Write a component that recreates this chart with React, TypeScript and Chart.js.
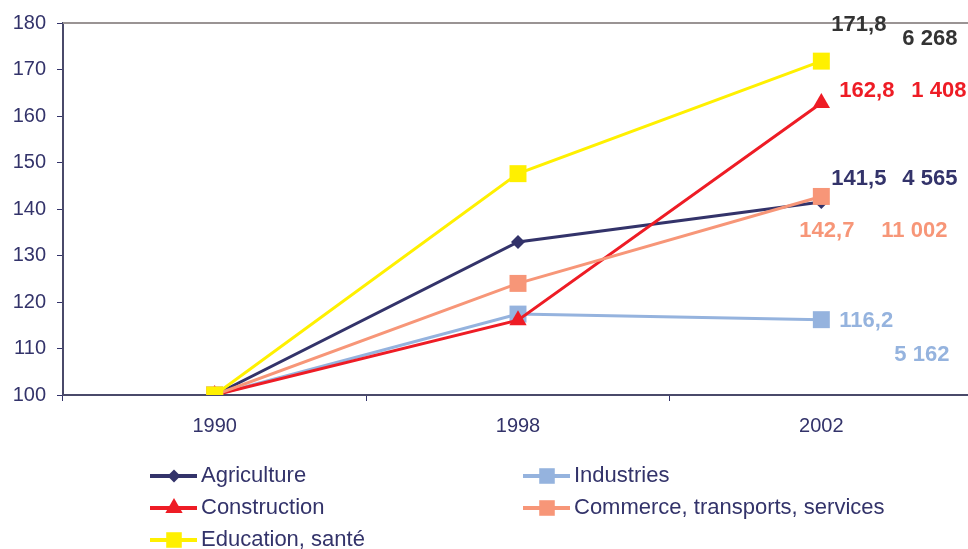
import React, { useEffect, useRef } from "react";
import { Chart, registerables } from "chart.js";
import { drawPoint } from "chart.js/helpers";

Chart.register(...registerables);

const years = ["1990", "1998", "2002"];
const seriesNames = ["Agriculture", "Industries", "Construction", "Commerce, transports, services", "Education, santé"];
const agriculture = [100, 132.9, 141.5];
const industries = [100, 117.4, 116.2];
const construction = [100, 116.1, 162.8];
const commerce = [100, 124.0, 142.7];
const education = [100, 147.6, 171.8];
const indexLabels = ["141,5", "116,2", "162,8", "142,7", "171,8"];
const employmentLabels = ["4 565", "5 162", "1 408", "11 002", "6 268"];
const yTicks = [100, 110, 120, 130, 140, 150, 160, 170, 180];

const NAVY = "#33336a";
const colors = ["#33336a", "#95b3de", "#ee1c25", "#f79678", "#fff000"];
const labelColors = ["#33336a", "#95b3de", "#ee1c25", "#f79678", "#333333"];
const shapes = ["rectRot", "rect", "triangle", "rect", "rect"];
const radii = [7, 12, 10, 12, 12];
const legendRadii = [6.5, 11, 10, 11, 11];
const orders = [4, 3, 2, 1, 0];
// label offsets relative to the last point: [dx1, dy1, dx2, dy2]
const labelOffsets = [
  [10, -23, 81, -23],
  [18, 1, 73, 35],
  [18, -12, 90, -12],
  [-22, 34, 60, 34],
  [10, -36, 81, -22],
];
const legendPos = [
  [150, 476],
  [523, 476],
  [150, 508],
  [523, 508],
  [150, 540],
];
const EXTRA = 17;

export default function App() {
  const ref = useRef<HTMLCanvasElement>(null);
  useEffect(() => {
    const all = [agriculture, industries, construction, commerce, education];
    const extras = {
      id: "extras",
      afterDraw(chart: any) {
        const ctx = chart.ctx;
        const ca = chart.chartArea;
        ctx.save();
        // top border
        ctx.strokeStyle = "#9a9494";
        ctx.lineWidth = 2;
        ctx.beginPath();
        ctx.moveTo(ca.left, ca.top);
        ctx.lineTo(ca.right, ca.top);
        ctx.stroke();
        // end labels
        ctx.font = "bold 22px 'Liberation Sans', Arial, sans-serif";
        ctx.textBaseline = "middle";
        ctx.textAlign = "left";
        all.forEach((_, i) => {
          const meta = chart.getDatasetMeta(i);
          const p = meta.data[2];
          const o = labelOffsets[i];
          ctx.fillStyle = labelColors[i];
          ctx.fillText(indexLabels[i], p.x + o[0], p.y + o[1]);
          ctx.fillText(employmentLabels[i], p.x + o[2], p.y + o[3]);
        });
        // legend
        ctx.font = "22px 'Liberation Sans', Arial, sans-serif";
        all.forEach((_, i) => {
          const [x, y] = legendPos[i];
          ctx.strokeStyle = colors[i];
          ctx.lineWidth = 4;
          ctx.beginPath();
          ctx.moveTo(x, y);
          ctx.lineTo(x + 47, y);
          ctx.stroke();
          ctx.fillStyle = colors[i];
          drawPoint(ctx, { pointStyle: shapes[i], radius: legendRadii[i], borderWidth: 0, rotation: 0 }, x + 24, y);
          ctx.fillStyle = NAVY;
          ctx.fillText(seriesNames[i], x + 51, y);
        });
        ctx.restore();
      },
    };
    const chart = new Chart(ref.current!, {
      type: "line",
      data: {
        labels: years,
        datasets: all.map((d, i) => ({
          label: seriesNames[i],
          data: d,
          borderColor: colors[i],
          backgroundColor: colors[i],
          borderWidth: 3,
          pointStyle: shapes[i] as any,
          pointRadius: radii[i],
          pointBorderWidth: 0,
          pointBackgroundColor: colors[i],
          tension: 0,
          order: orders[i],
        })),
      },
      options: {
        animation: false,
        responsive: false,
        layout: { padding: { top: 22, right: 0, left: 0, bottom: 0 } },
        plugins: { legend: { display: false }, tooltip: { enabled: false } },
        scales: {
          x: {
            offset: true,
            grid: { offset: true, drawOnChartArea: false, drawTicks: true, tickLength: 6, color: NAVY, lineWidth: 1 },
            border: { display: true, color: "#4a4a6a", width: 2 },
            ticks: { color: NAVY, font: { family: "'Liberation Sans', Arial, sans-serif", size: 20 }, padding: 13, maxRotation: 0 },
            afterFit: (s: any) => { s.height = 154; },
          },
          y: {
            min: 100,
            max: 180,
            afterBuildTicks: (s: any) => { s.ticks = yTicks.map((v) => ({ value: v })); },
            grid: { drawOnChartArea: false, drawTicks: true, tickLength: 6, color: NAVY, lineWidth: 1 },
            border: { display: true, color: "#4a4a6a", width: 2 },
            ticks: { color: NAVY, font: { family: "'Liberation Sans', Arial, sans-serif", size: 20 }, padding: 11 },
            afterFit: (s: any) => { s.width = 63; },
          },
        },
      },
      plugins: [extras],
    });
    return () => chart.destroy();
  }, []);
  return (
    <div style={{ position: "fixed", left: 0, top: 0, width: 968, height: 549, background: "#fff", overflow: "hidden" }}>
      <canvas ref={ref} width={968 + EXTRA} height={549} style={{ width: 968 + EXTRA, height: 549, display: "block" }} />
    </div>
  );
}
